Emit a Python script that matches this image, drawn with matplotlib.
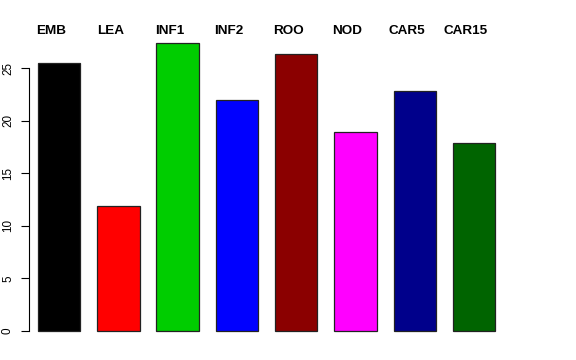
import matplotlib
matplotlib.use("Agg")
import matplotlib.pyplot as plt

plt.rcParams["font.family"] = ["Liberation Sans", "DejaVu Sans"]

tissues = ["EMB", "LEA", "INF1", "INF2", "ROO", "NOD", "CAR5", "CAR15"]
values = [25.5, 11.9, 27.4, 22.0, 26.3, 18.9, 22.8, 17.85]
colors = ["#000000", "#FF0000", "#00CD00", "#0000FF", "#8B0000", "#FF00FF", "#00008B", "#006400"]

# R-style barplot positions: width 1, space 0.4
pos = [0.9 + 1.4 * i for i in range(len(values))]

fig = plt.figure(figsize=(5.76, 3.6), dpi=100)
ax = fig.add_axes([29 / 576, 17.4 / 360, 517 / 576, 311.4 / 360])
ax.bar(pos, values, width=1.0, color=colors, edgecolor="#222222", linewidth=0.9)

ax.set_xlim(0.189, 12.4)
ax.set_ylim(-1.1, 28.5)

for s in ["top", "right", "bottom"]:
    ax.spines[s].set_visible(False)
ax.spines["left"].set_bounds(0, 25)
ax.spines["left"].set_linewidth(0.8)
ax.set_xticks([])
ax.set_yticks([0, 5, 10, 15, 20, 25])
ax.tick_params(axis="y", length=5.8, width=0.8, pad=5, labelsize=8.4)
for lab in ax.get_yticklabels():
    lab.set_rotation(90)
    lab.set_va("center")

for p, name in zip(pos, tissues):
    ax.text(p - 0.19, 1.0, name, transform=ax.get_xaxis_transform(),
            ha="center", va="baseline", fontsize=9.7, fontweight="bold")
# place labels at pixel baseline ~34
for t in ax.texts:
    t.set_y((360 - 34 - 17.4) / 311.4)

fig.savefig("out.png", dpi=100)
